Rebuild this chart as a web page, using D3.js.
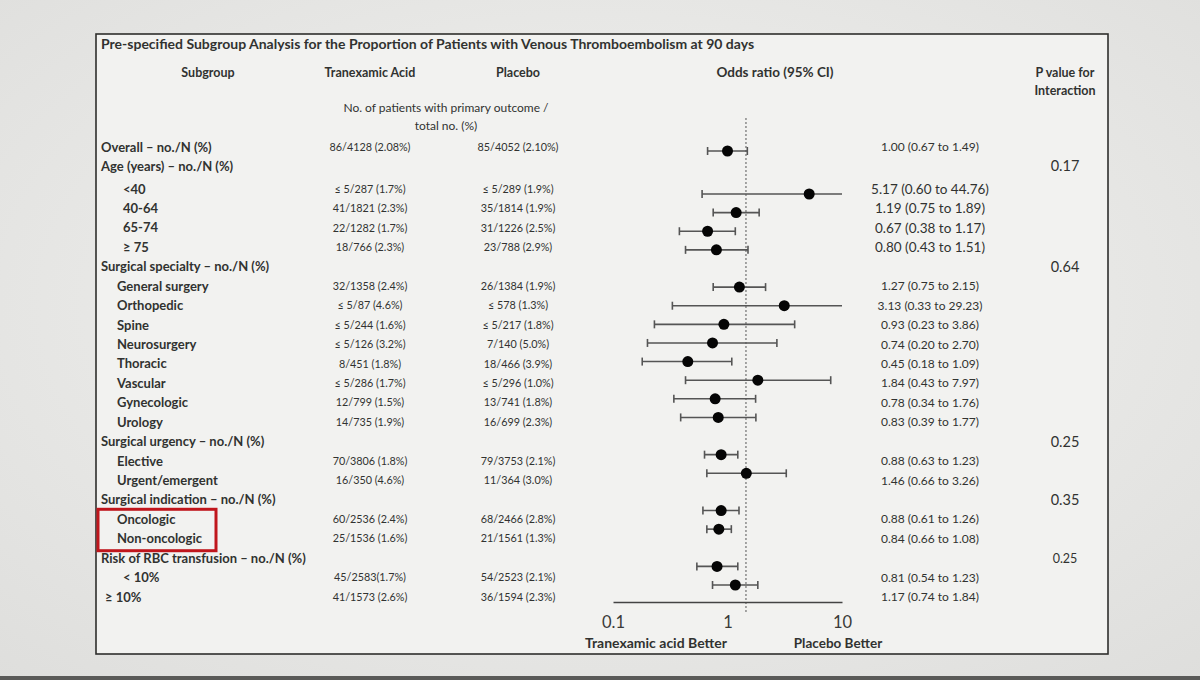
<!DOCTYPE html>
<html>
<head>
<meta charset="utf-8">
<script src="https://cdn.jsdelivr.net/npm/d3@7"></script>
<style>
  body { margin: 0; background: #e8e8e6; }
  svg { display: block; font-family: Lato, "Open Sans", sans-serif; }
</style>
</head>
<body>
<svg width="1200" height="680"></svg>
<script>
// rows of the forest plot, top to bottom
const subgroups = [
  'Overall – no./N (%)', 'Age (years) – no./N (%)', '<40', '40-64', '65-74', '≥ 75',
  'Surgical specialty – no./N (%)', 'General surgery', 'Orthopedic', 'Spine', 'Neurosurgery',
  'Thoracic', 'Vascular', 'Gynecologic', 'Urology',
  'Surgical urgency – no./N (%)', 'Elective', 'Urgent/emergent',
  'Surgical indication – no./N (%)', 'Oncologic', 'Non-oncologic',
  'Risk of RBC transfusion – no./N (%)', '< 10%', '≥ 10%'
];
const txaCounts = [
  '86/4128 (2.08%)', null, '≤ 5/287 (1.7%)', '41/1821 (2.3%)', '22/1282 (1.7%)', '18/766 (2.3%)',
  null, '32/1358 (2.4%)', '≤ 5/87 (4.6%)', '≤ 5/244 (1.6%)', '≤ 5/126 (3.2%)',
  '8/451 (1.8%)', '≤ 5/286 (1.7%)', '12/799 (1.5%)', '14/735 (1.9%)',
  null, '70/3806 (1.8%)', '16/350 (4.6%)',
  null, '60/2536 (2.4%)', '25/1536 (1.6%)',
  null, '45/2583(1.7%)', '41/1573 (2.6%)'
];
const placeboCounts = [
  '85/4052 (2.10%)', null, '≤ 5/289 (1.9%)', '35/1814 (1.9%)', '31/1226 (2.5%)', '23/788 (2.9%)',
  null, '26/1384 (1.9%)', '≤ 578 (1.3%)', '≤ 5/217 (1.8%)', '7/140 (5.0%)',
  '18/466 (3.9%)', '≤ 5/296 (1.0%)', '13/741 (1.8%)', '16/699 (2.3%)',
  null, '79/3753 (2.1%)', '11/364 (3.0%)',
  null, '68/2466 (2.8%)', '21/1561 (1.3%)',
  null, '54/2523 (2.1%)', '36/1594 (2.3%)'
];
const oddsRatio = [1.00, null, 5.17, 1.19, 0.67, 0.80, null, 1.27, 3.13, 0.93, 0.74, 0.45, 1.84, 0.78, 0.83,
  null, 0.88, 1.46, null, 0.88, 0.84, null, 0.81, 1.17];
const ciLow = [0.67, null, 0.60, 0.75, 0.38, 0.43, null, 0.75, 0.33, 0.23, 0.20, 0.18, 0.43, 0.34, 0.39,
  null, 0.63, 0.66, null, 0.61, 0.66, null, 0.54, 0.74];
const ciHigh = [1.49, null, 44.76, 1.89, 1.17, 1.51, null, 2.15, 29.23, 3.86, 2.70, 1.09, 7.97, 1.76, 1.77,
  null, 1.23, 3.26, null, 1.26, 1.08, null, 1.23, 1.84];
const pInteraction = [null, 0.17, null, null, null, null, 0.64, null, null, null, null, null, null, null, null,
  0.25, null, null, 0.35, null, null, 0.25, null, null];
const xTicks = [0.1, 1, 10];
const refLine = 1.45;   // dashed line as drawn on the slide

const rows = subgroups.map((s, i) => ({
  i, label: s, txa: txaCounts[i], pbo: placeboCounts[i],
  or: oddsRatio[i], lo: ciLow[i], hi: ciHigh[i], p: pInteraction[i]
}));

const svg = d3.select('svg');
const ink = '#313230';

// slide background
const defs = svg.append('defs');
const grad = defs.append('radialGradient').attr('id', 'bg').attr('cx', '50%').attr('cy', '45%').attr('r', '75%');
grad.append('stop').attr('offset', '0%').attr('stop-color', '#f3f3f1');
grad.append('stop').attr('offset', '100%').attr('stop-color', '#dededc');
svg.append('rect').attr('width', 1200).attr('height', 680).attr('fill', 'url(#bg)');
svg.append('rect').attr('x', 0).attr('y', 676).attr('width', 1200).attr('height', 4).attr('fill', '#5a5a58');

// frame
svg.append('rect')
  .attr('x', 96).attr('y', 34).attr('width', 1012).attr('height', 620)
  .attr('fill', '#f2f2f0').attr('stroke', '#2e2e2c').attr('stroke-width', 1.6);

svg.append('text').attr('x', 101).attr('y', 49)
  .attr('font-size', 14).attr('font-weight', 700).attr('fill', ink)
  .text('Pre-specified Subgroup Analysis for the Proportion of Patients with Venous Thromboembolism at 90 days');

// column headers
const heads = [
  {t: 'Subgroup', x: 208, s: 12.5}, {t: 'Tranexamic Acid', x: 370, s: 12.5}, {t: 'Placebo', x: 518, s: 12.5},
  {t: 'Odds ratio (95% CI)', x: 775, s: 13.5}, {t: 'P value for', x: 1065, s: 12.5}
];
svg.selectAll('.head').data(heads).join('text')
  .attr('x', d => d.x).attr('y', 77).attr('text-anchor', 'middle')
  .attr('font-size', d => d.s).attr('font-weight', 700).attr('fill', ink).text(d => d.t);
svg.append('text').attr('x', 1065).attr('y', 95).attr('text-anchor', 'middle')
  .attr('font-size', 12.5).attr('font-weight', 700).attr('fill', ink).text('Interaction');

svg.append('text').attr('x', 446).attr('y', 112).attr('text-anchor', 'middle')
  .attr('font-size', 12).attr('fill', ink).text('No. of patients with primary outcome /');
svg.append('text').attr('x', 446).attr('y', 130).attr('text-anchor', 'middle')
  .attr('font-size', 12).attr('fill', ink).text('total no. (%)');

// scales
const textY = d3.scaleLinear().domain([0, 1, 2, 23]).range([147, 166, 189, 597]);
const plotY = d3.scaleLinear().domain([0, 2, 23]).range([151, 194, 585]);
const x = d3.scaleLog().domain([0.1, 10]).range([613, 842]);

const deep = new Set(['<40', '40-64', '65-74', '≥ 75', '< 10%']);
const labelX = d => d.txa === null || d.i === 0 ? 101 : deep.has(d.label) ? 123 : d.label === '≥ 10%' ? 105 : 117;

const rowG = svg.append('g');
rowG.selectAll('.lab').data(rows).join('text')
  .attr('x', labelX).attr('y', d => textY(d.i)).attr('dy', '0.35em')
  .attr('font-size', 13).attr('font-weight', 700).attr('fill', ink).text(d => d.label);

const withData = rows.filter(d => d.txa !== null);
rowG.selectAll('.txa').data(withData).join('text')
  .attr('x', 370).attr('y', d => textY(d.i)).attr('dy', '0.35em').attr('text-anchor', 'middle')
  .attr('font-size', 10.8).attr('fill', ink).text(d => d.txa);
rowG.selectAll('.pbo').data(withData).join('text')
  .attr('x', 518).attr('y', d => textY(d.i)).attr('dy', '0.35em').attr('text-anchor', 'middle')
  .attr('font-size', 10.8).attr('fill', ink).text(d => d.pbo);

const f2 = d3.format('.2f');
rowG.selectAll('.ort').data(withData).join('text')
  .attr('x', 930).attr('y', d => textY(d.i)).attr('dy', '0.35em').attr('text-anchor', 'middle')
  .attr('font-size', d => d.i >= 2 && d.i <= 5 ? 13.5 : 12).attr('fill', ink)
  .text(d => `${f2(d.or)} (${f2(d.lo)} to ${f2(d.hi)})`);

rowG.selectAll('.pv').data(rows.filter(d => d.p !== null)).join('text')
  .attr('x', 1065).attr('y', d => textY(d.i)).attr('dy', '0.35em').attr('text-anchor', 'middle')
  .attr('font-size', d => d.i === 21 ? 12.5 : 14.5).attr('fill', ink).text(d => f2(d.p));

// reference line
svg.append('line')
  .attr('x1', x(refLine)).attr('x2', x(refLine)).attr('y1', 118).attr('y2', 612)
  .attr('stroke', '#555').attr('stroke-width', 1).attr('stroke-dasharray', '2,2');

// CI whiskers, clipped to the axis range
const [dMin, dMax] = x.domain();
const ci = svg.append('g').attr('stroke', '#555').attr('stroke-width', 1.6);
withData.forEach(d => {
  const y = plotY(d.i);
  const lo = Math.max(d.lo, dMin), hi = Math.min(d.hi, dMax);
  ci.append('line').attr('x1', x(lo)).attr('x2', x(hi)).attr('y1', y).attr('y2', y);
  if (d.lo >= dMin) ci.append('line').attr('x1', x(lo)).attr('x2', x(lo)).attr('y1', y - 4).attr('y2', y + 4);
  if (d.hi <= dMax) ci.append('line').attr('x1', x(hi)).attr('x2', x(hi)).attr('y1', y - 4).attr('y2', y + 4);
});
svg.selectAll('.dot').data(withData).join('circle')
  .attr('cx', d => x(d.or)).attr('cy', d => plotY(d.i)).attr('r', 5.5).attr('fill', '#050505');

// axis
const xAxis = d3.axisBottom(x).tickValues(xTicks).tickSize(0).tickPadding(14)
  .tickFormat(d => d3.format('~g')(d));
const axG = svg.append('g').attr('transform', 'translate(0,602)').call(xAxis);
axG.select('.domain').attr('stroke', '#444').attr('stroke-width', 1.4);
axG.selectAll('text').attr('font-size', 16.5).attr('fill', '#3a3a38').attr('font-family', 'Lato, sans-serif');

svg.append('text').attr('x', 656).attr('y', 648).attr('text-anchor', 'middle')
  .attr('font-size', 14).attr('font-weight', 700).attr('fill', ink).text('Tranexamic acid Better');
svg.append('text').attr('x', 838).attr('y', 648).attr('text-anchor', 'middle')
  .attr('font-size', 13.5).attr('font-weight', 700).attr('fill', ink).text('Placebo Better');

// red highlight box around Oncologic / Non-oncologic
svg.append('rect')
  .attr('x', 98).attr('y', textY(19) - 10).attr('width', 118).attr('height', textY(20) - textY(19) + 22)
  .attr('fill', 'none').attr('stroke', '#c0161c').attr('stroke-width', 3);
</script>
</body>
</html>
